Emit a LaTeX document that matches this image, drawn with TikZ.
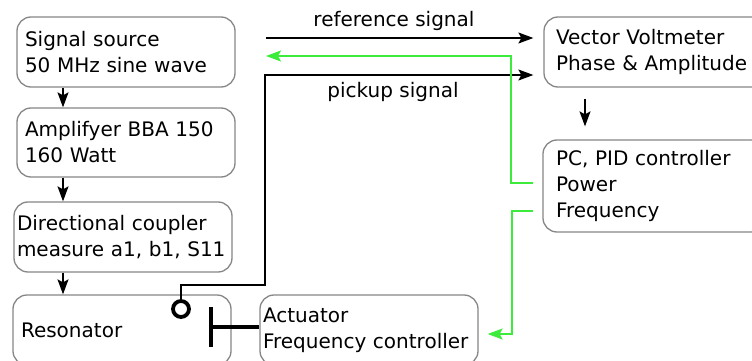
\documentclass[tikz,border=0pt]{standalone}
\usepackage{fontspec}
\setmainfont{DejaVu Sans}
\usetikzlibrary{arrows.meta}
\definecolor{boxgray}{RGB}{135,135,135}
\definecolor{sig}{RGB}{60,235,60}
\tikzset{
  box/.style={draw=boxgray, line width=1.3pt, rounded corners=14pt, rectangle,
    align=left, inner xsep=8pt, inner ysep=0pt, minimum height=70pt,
    font=\fontsize{20}{26}\selectfont},
  lbl/.style={font=\fontsize{20}{26}\selectfont, inner sep=0pt, anchor=base},
  arr/.style={line width=1.2pt, -{Stealth[length=15pt,width=11pt,inset=3pt]}},
  garr/.style={arr, draw=sig, color=sig},
  heavy/.style={line width=3.8pt},
}
\begin{document}
\begin{tikzpicture}[x=1pt,y=-1pt]
\useasboundingbox (0,0) rectangle (752,361);
\clip (0,0) rectangle (752,361);
\fill[white] (0,0) rectangle (752,361);

\node[box, text width=202pt] (src) at (126,52) {Signal source\\50 MHz sine wave};
\node[box, text width=202pt, minimum height=69pt] (amp) at (126,142.5) {Amplifyer BBA 150\\160 Watt};
\node[box, text width=212pt, inner xsep=3pt] (dc) at (123,237) {Directional coupler\\measure a1, b1, S11};
\node[box, text width=202pt] (res) at (122,330) {Resonator};
\node[box, text width=212pt, inner xsep=3pt] (act) at (369,330) {Actuator\\Frequency controller};
\node[box, text width=198pt, inner xsep=12pt] (vvm) at (655,52) {Vector Voltmeter\\Phase \& Amplitude};
\node[box, text width=196pt, inner xsep=13pt, minimum height=92pt] (pc) at (654,186) {PC, PID controller\\Power\\Frequency};

% vertical chain
\draw[arr] (63,0 |- src.south) -- (63,0 |- amp.north);
\draw[arr] (63,0 |- amp.south) -- (63,0 |- dc.north);
\draw[arr] (63,0 |- dc.south) -- (63,0 |- res.north);
\draw[arr, shorten <=11pt, shorten >=13pt] (585,0 |- vvm.south) -- (585,0 |- pc.north);

% reference signal
\coordinate (refstart) at (266,38);
\draw[arr, shorten >=10pt] (refstart) -- (refstart -| vvm.west);
\node[lbl] (reflbl) at (394,27) {reference signal};

% pickup
\node[circle, draw, heavy, minimum size=16pt, inner sep=0pt] (pick) at (181,309) {};
\coordinate (pk1) at (181,285);
\coordinate (pk2) at (265,285);
\coordinate (pk3) at (265,75);
\draw[arr] (pick.north) -- (pk1) -- (pk2) -- (pk3) -- ([xshift=-10pt]pk3 -| vvm.west);
\node[lbl] (pklbl) at (393,97) {pickup signal};

% green feedback to signal source
\coordinate (g1) at (533,183);
\coordinate (g2) at (511,183);
\coordinate (g3) at (511,56);
\coordinate (g4) at (266,56);
\draw[garr] (g1) -- (g2) -- (g3) -- (g4);

% green feedback to actuator
\coordinate (h1) at (533,211);
\coordinate (h2) at (512,211);
\coordinate (h3) at (512,334);
\draw[garr, shorten >=9pt] (h1) -- (h2) -- (h3) -- (h3 -| act.east);

% actuator bar
\coordinate (bar) at (211,327);
\draw[heavy] (211,307) -- (211,347);
\draw[heavy] (bar) -- (bar -| act.west);
\end{tikzpicture}
\end{document}
